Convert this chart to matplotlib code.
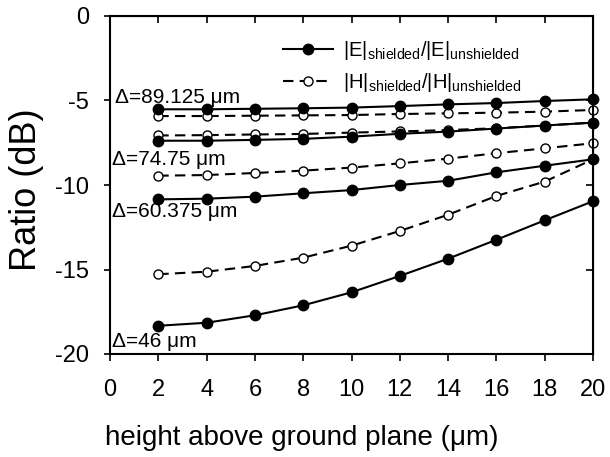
import matplotlib
matplotlib.use("Agg")
import matplotlib.pyplot as plt

plt.rcParams["font.family"] = ["Liberation Sans", "DejaVu Sans"]
plt.rcParams["mathtext.fontset"] = "custom"
plt.rcParams["mathtext.rm"] = "Liberation Sans"
plt.rcParams["mathtext.it"] = "Liberation Sans"
plt.rcParams["axes.unicode_minus"] = False

height = [2, 4, 6, 8, 10, 12, 14, 16, 18, 20]

# Field ratios (dB) for each shield spacing
e_89 = [-5.52, -5.52, -5.49, -5.46, -5.42, -5.33, -5.23, -5.15, -5.03, -4.93]
h_89 = [-5.92, -5.92, -5.90, -5.88, -5.86, -5.80, -5.76, -5.72, -5.66, -5.56]
e_74 = [-7.38, -7.38, -7.33, -7.27, -7.14, -6.97, -6.84, -6.66, -6.48, -6.31]
h_74 = [-7.07, -7.05, -7.01, -6.98, -6.90, -6.83, -6.75, -6.64, -6.48, -6.31]
e_60 = [-10.85, -10.81, -10.69, -10.49, -10.30, -10.00, -9.75, -9.25, -8.86, -8.48]
h_60 = [-9.45, -9.41, -9.29, -9.15, -8.97, -8.72, -8.44, -8.12, -7.83, -7.53]
e_46 = [-18.33, -18.15, -17.71, -17.12, -16.35, -15.38, -14.36, -13.24, -12.09, -10.96]
h_46 = [-15.28, -15.13, -14.79, -14.30, -13.59, -12.72, -11.76, -10.65, -9.80, -8.48]

labels = ["Δ=89.125 μm", "Δ=74.75 μm", "Δ=60.375 μm", "Δ=46 μm"]
label_x = [0.22, 0.08, 0.08, 0.08]
label_y = [-5.15, -8.82, -11.89, -19.59]

x_ticks = list(range(0, 21, 2))
y_ticks = list(range(-20, 1, 5))

fig = plt.figure(figsize=(6.10, 4.57), dpi=100)
ax = fig.add_axes([110 / 610, 1 - 354 / 457, 483 / 610, 338 / 457])

e_style = dict(color="black", lw=1.5, marker="o", markersize=7.5,
               markerfacecolor="black", markeredgecolor="black")
h_style = dict(color="black", lw=1.5, ls=(0, (5, 3)), marker="o", markersize=6.5,
               markerfacecolor="white", markeredgecolor="black", markeredgewidth=1.0)

handles = []
for i, (e, h) in enumerate([(e_89, h_89), (e_74, h_74), (e_60, h_60), (e_46, h_46)]):
    le, = ax.plot(height, e, zorder=3, clip_on=False, **e_style)
    lh, = ax.plot(height, h, zorder=2, clip_on=False, **h_style)
    if i == 0:
        handles = [le, lh]

for lab, x, y in zip(labels, label_x, label_y):
    ax.text(x, y, lab, fontsize=15, ha="left", va="baseline")

ax.legend(handles,
          [r"|E|$_{\mathrm{shielded}}$/|E|$_{\mathrm{unshielded}}$",
           r"|H|$_{\mathrm{shielded}}$/|H|$_{\mathrm{unshielded}}$"],
          loc="upper left", bbox_to_anchor=(0.32, 0.985), frameon=False,
          fontsize=14.5, handlelength=2.5, handletextpad=0.5, labelspacing=0.45)

ax.set_xlim(0, 20)
ax.set_ylim(-20, 0)
ax.set_xticks(x_ticks)
ax.set_yticks(y_ticks)
for s in ax.spines.values():
    s.set_linewidth(1.5)
ax.tick_params(axis="x", labelsize=17, width=1.2, length=5, direction="out", pad=13)
ax.tick_params(axis="y", labelsize=17, width=1.2, length=4, direction="out", pad=11)

# inward ticks along the top and right edges
ax_top = ax.secondary_xaxis("top")
ax_top.set_xticks(x_ticks)
ax_top.tick_params(direction="in", length=5, width=1.2, labeltop=False)
ax_right = ax.secondary_yaxis("right")
ax_right.set_yticks(y_ticks)
ax_right.tick_params(direction="in", length=5, width=1.2, labelright=False)

fig.text(302 / 610, 1 - 445 / 457, "height above ground plane (μm)",
         fontsize=20, ha="center", va="baseline")
fig.text(27 / 610, 1 - 190 / 457, "Ratio (dB)", fontsize=26, rotation=90,
         ha="center", va="center")

fig.savefig("out.png", dpi=100)
